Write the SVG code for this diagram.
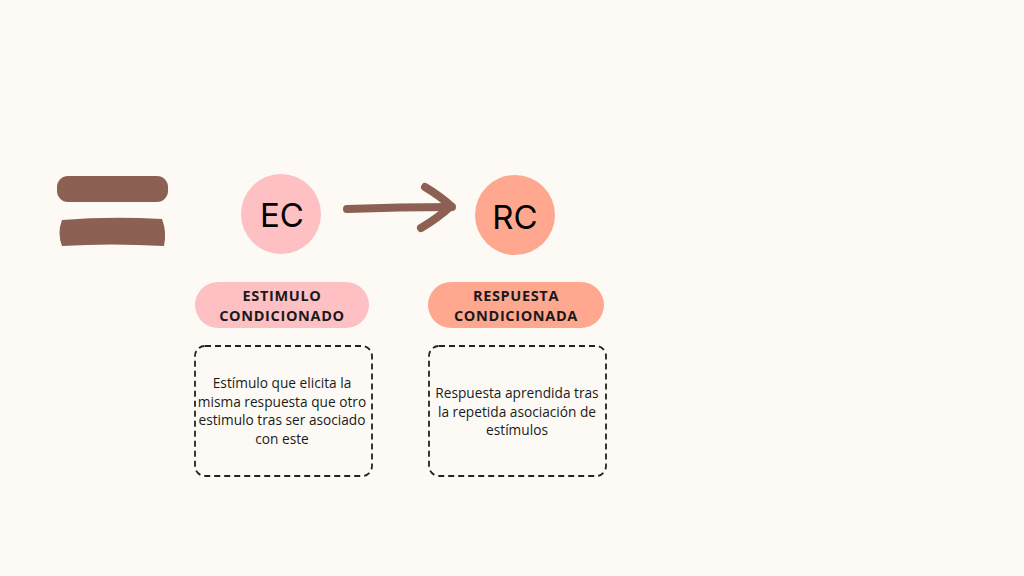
<svg xmlns="http://www.w3.org/2000/svg" width="1024" height="576" viewBox="0 0 1024 576">
<style>
.bar{fill:#8C6052}
.big{font-family:Inter,"Liberation Sans",sans-serif;font-size:33px;fill:#000;text-anchor:middle}
.hd{font-family:"Open Sans","Liberation Sans",sans-serif;font-weight:700;font-size:14.5px;fill:#1a1a1a;text-anchor:middle;letter-spacing:0.65px}
.bd{font-family:"Open Sans","Liberation Sans",sans-serif;font-size:13.7px;fill:#1a1a1a;text-anchor:middle}
.box{fill:none;stroke:#222;stroke-width:1.8;stroke-dasharray:6 4}
.conn{fill:none;stroke:#8C6052;stroke-width:8;stroke-linecap:round;stroke-linejoin:round}
</style>
<rect width="1024" height="576" fill="#FDFAF5"/>
<g id="equals">
<rect class="bar" x="57" y="176" width="111" height="26" rx="11"/>
<path class="bar" d="M62 220 Q110 216 162 219 Q167 232 164 246 Q110 243 62 246 Q57 233 62 220 Z"/>
</g>
<g id="ec">
<circle cx="281" cy="214" r="40" fill="#FFC0C4"/>
<text class="big" x="282" y="227">EC</text>
</g>
<g id="rc">
<circle cx="515" cy="215" r="40" fill="#FFA88F"/>
<text class="big" x="515" y="229">RC</text>
</g>
<g id="connectors">
<path class="conn" d="M347 209 Q400 207 452 207"/>
<path class="conn" d="M425 187 Q440 196 451 206 Q438 218 421 228"/>
</g>
<g id="label-ec">
<rect x="195" y="282" width="174" height="46" rx="23" fill="#FFC0C4"/>
<text class="hd" x="282" y="300.5">ESTIMULO</text>
<text class="hd" x="282" y="320.5">CONDICIONADO</text>
</g>
<g id="label-rc">
<rect x="428" y="282" width="176" height="46" rx="23" fill="#FFA88F"/>
<text class="hd" x="516" y="300.5">RESPUESTA</text>
<text class="hd" x="516" y="320.5">CONDICIONADA</text>
</g>
<g id="desc-ec">
<rect class="box" x="195" y="346" width="177" height="130" rx="10"/>
<text class="bd" x="282" y="388">Estímulo que elicita la</text>
<text class="bd" x="282" y="406.5">misma respuesta que otro</text>
<text class="bd" x="282" y="425">estimulo tras ser asociado</text>
<text class="bd" x="282" y="443.5">con este</text>
</g>
<g id="desc-rc">
<rect class="box" x="429" y="346" width="177" height="130" rx="10"/>
<text class="bd" x="517" y="398">Respuesta aprendida tras</text>
<text class="bd" x="517" y="416.5">la repetida asociación de</text>
<text class="bd" x="517" y="435">estímulos</text>
</g>
</svg>
